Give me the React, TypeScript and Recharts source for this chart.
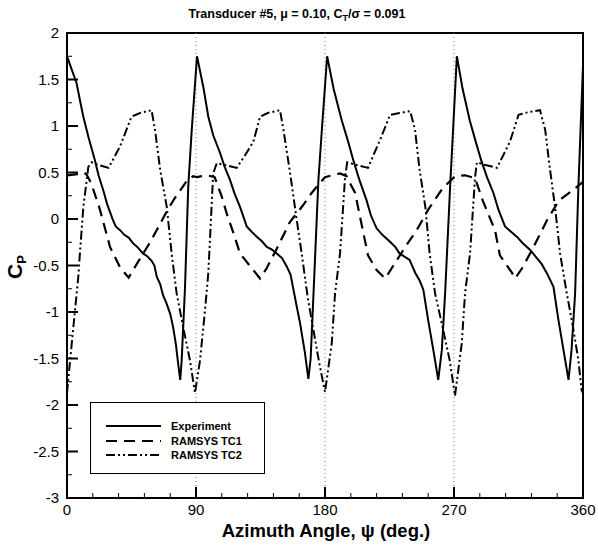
import React from 'react';
import {
  LineChart,
  Line,
  XAxis,
  YAxis,
  ReferenceLine,
  ReferenceArea,
  Legend,
} from 'recharts';

// Azimuth (deg) and Cp
const expAngle = [
  0, 3, 6.7, 9, 11.4, 15, 19.5, 22, 25.3, 28, 32, 34, 37, 40, 43, 46, 49, 53, 56, 59, 61, 62.6, 65, 67, 69.5, 72, 74, 76, 77.5, 79, 80, 82.3, 84.6, 87, 90.7,
  95.1, 98.6, 102, 106.8, 110, 113.7, 117, 120.7, 125.4, 129, 132.4, 136, 139.4, 143, 146.3, 150, 153.3, 156, 158, 160, 162.6, 166, 168.4, 170, 172.5, 175.4, 178, 181.5,
  186, 191.7, 196, 199.8, 204, 209, 212, 216, 220, 225, 229, 232, 236, 239, 243, 246, 248.6, 252, 255.6, 259, 261.5, 263.8, 267.3, 269.5, 272,
  276, 281, 285, 289, 293, 297.5, 301, 305.6, 310, 313.8, 318, 323, 327.8, 331, 334.7, 339.4, 342.9, 346.4, 349.9, 352, 354.5, 356.8, 360,
];
const expCp = [
  1.75, 1.62, 1.46, 1.28, 1.1, 0.88, 0.63, 0.47, 0.31, 0.16, -0.01, -0.08, -0.12, -0.17, -0.2, -0.26, -0.3, -0.37, -0.4, -0.45, -0.5, -0.62, -0.7, -0.82, -0.91, -1.02, -1.16, -1.35, -1.55, -1.73, -1.52, -0.75, 0.35, 0.95, 1.75,
  1.42, 1.1, 0.9, 0.71, 0.56, 0.42, 0.27, 0.13, -0.08, -0.14, -0.19, -0.24, -0.3, -0.33, -0.37, -0.42, -0.51, -0.6, -0.76, -0.92, -1.12, -1.44, -1.72, -1.5, -0.62, 0.42, 1.0, 1.75,
  1.4, 1.06, 0.84, 0.63, 0.42, 0.2, 0.04, -0.1, -0.17, -0.24, -0.3, -0.37, -0.41, -0.44, -0.58, -0.66, -0.76, -1.09, -1.41, -1.73, -1.41, -0.8, 0.35, 1.0, 1.75,
  1.4, 1.06, 0.84, 0.63, 0.45, 0.28, 0.1, -0.08, -0.14, -0.19, -0.26, -0.33, -0.42, -0.48, -0.58, -0.73, -1.09, -1.41, -1.73, -1.41, -0.8, 0.35, 1.65,
];

const tc1Angle = [
  0, 6, 12, 14, 17, 23, 30, 37, 43, 50, 58, 64, 69.5, 75, 80, 84, 88,
  90.5, 97.5, 103, 108, 111.4, 117, 120.7, 130, 134.7, 139.3, 146, 155.6, 164.8, 170.7, 176, 180,
  190.5, 195, 201, 206.5, 210, 216, 222, 229, 236, 244, 252, 262, 270.8,
  277.7, 284.7, 290, 298.6, 302, 310.5, 312.6, 317.5, 324.5, 335, 343.3, 353, 360,
];
const tc1Cp = [
  0.47, 0.48, 0.5, 0.47, 0.38, 0.1, -0.3, -0.52, -0.63, -0.45, -0.25, -0.08, 0.08, 0.22, 0.33, 0.42, 0.46,
  0.45, 0.47, 0.45, 0.24, 0.06, -0.19, -0.37, -0.55, -0.64, -0.53, -0.33, -0.03, 0.15, 0.28, 0.38, 0.45,
  0.49, 0.46, 0.28, -0.13, -0.39, -0.55, -0.64, -0.47, -0.3, -0.12, 0.1, 0.33, 0.46,
  0.47, 0.44, 0.2, -0.12, -0.39, -0.58, -0.64, -0.53, -0.33, -0.01, 0.2, 0.31, 0.4,
];

const tc2Angle = [
  0, 3.3, 5.6, 7.9, 9, 11.4, 14.9, 17.2, 22, 29, 37, 45, 51, 59, 61.4, 65, 69.6, 73, 76.5, 81, 85.8, 89.3,
  92.8, 96.3, 98.6, 102, 104.5, 110, 118.4, 124, 130, 134.7, 140, 148.6, 151, 155.6, 160, 164, 168, 172, 176, 180,
  184.7, 187, 190.5, 194, 195.5, 202, 210, 218.4, 225.4, 232, 239.4, 242.8, 246, 250, 253, 256.8, 262, 267, 270.7,
  275.4, 277.7, 281.2, 284.7, 286, 292, 300, 309, 315, 322, 330, 333.6, 337, 340.5, 344, 348.7, 353, 356.8, 359, 360,
];
const tc2Cp = [
  -1.87, -1.34, -0.98, -0.62, -0.37, 0.13, 0.56, 0.61, 0.58, 0.55, 0.78, 1.1, 1.14, 1.17, 0.96, 0.53, 0.13, -0.37, -0.8, -1.16, -1.52, -1.87,
  -1.52, -0.98, -0.58, 0.49, 0.6, 0.58, 0.55, 0.68, 0.83, 1.1, 1.14, 1.17, 0.96, 0.5, 0.02, -0.4, -0.85, -1.2, -1.55, -1.86,
  -1.34, -0.8, -0.37, 0.45, 0.61, 0.58, 0.55, 0.85, 1.12, 1.14, 1.16, 0.96, 0.53, 0.13, -0.37, -0.8, -1.16, -1.52, -1.9,
  -1.34, -0.8, -0.37, 0.45, 0.61, 0.58, 0.55, 0.83, 1.12, 1.15, 1.17, 0.96, 0.53, 0.13, -0.37, -0.8, -1.16, -1.52, -1.84, -1.87,
];

const xTicks = [0, 18, 36, 54, 72, 90, 108, 126, 144, 162, 180, 198, 216, 234, 252, 270, 288, 306, 324, 342, 360];
const yTicks = [-3, -2.75, -2.5, -2.25, -2, -1.75, -1.5, -1.25, -1, -0.75, -0.5, -0.25, 0, 0.25, 0.5, 0.75, 1, 1.25, 1.5, 1.75, 2];
const guideAngles = [90, 180, 270];

const toRows = (xs: number[], ys: number[]) => xs.map((x, i) => ({ x, cp: ys[i] }));
const expData = toRows(expAngle, expCp);
const tc1Data = toRows(tc1Angle, tc1Cp);
const tc2Data = toRows(tc2Angle, tc2Cp);

const FONT = '"Liberation Sans", Arial, Helvetica, sans-serif';

const series = [
  { name: 'Experiment', data: expData, dash: undefined, width: 2 },
  { name: 'RAMSYS TC1', data: tc1Data, dash: '11 7', width: 2.2 },
  { name: 'RAMSYS TC2', data: tc2Data, dash: '9 3 2 3 2 3', width: 2 },
];

const XTick = (props: any) => {
  const { x, y, payload } = props;
  const major = payload.value % 90 === 0;
  return (
    <g>
      <line x1={x} x2={x} y1={y} y2={y - (major ? 11 : 5)} stroke="#000" strokeWidth={major ? 2 : 1} />
      {major && (
        <text x={x} y={y + 17} textAnchor="middle" fontSize={15} fontFamily={FONT} fill="#000">
          {payload.value}
        </text>
      )}
    </g>
  );
};

const YTick = (props: any) => {
  const { x, y, payload } = props;
  const major = Number.isInteger(payload.value * 2);
  return (
    <g>
      <line x1={x} x2={x + (major ? 11 : 5)} y1={y} y2={y} stroke="#000" strokeWidth={major ? 2 : 1} />
      {major && (
        <text x={x - 8} y={y + 5} textAnchor="end" fontSize={15} fontFamily={FONT} fill="#000">
          {String(payload.value)}
        </text>
      )}
    </g>
  );
};

const LegendBox = () => (
  <div
    style={{
      width: 175,
      height: 72,
      border: '1.5px solid #000',
      background: '#fff',
      fontFamily: FONT,
      fontWeight: 'bold',
      fontSize: 11,
      boxSizing: 'border-box',
      paddingTop: 16,
    }}
  >
    {series.map((s) => (
      <div key={s.name} style={{ display: 'flex', alignItems: 'center', height: 14.5 }}>
        <svg width={80} height={10}>
          <line x1={15} x2={70} y1={5} y2={5} stroke="#000" strokeWidth={2} strokeDasharray={s.dash} />
        </svg>
        <span>{s.name}</span>
      </div>
    ))}
  </div>
);

export default function App() {
  return (
    <div style={{ position: 'fixed', left: 0, top: 0, width: 598, height: 546, background: '#fff' }}>
      <LineChart width={598} height={546} margin={{ top: 33, right: 15, left: 0, bottom: 0 }}>
        <XAxis
          dataKey="x"
          type="number"
          domain={[0, 360]}
          ticks={xTicks}
          interval={0}
          tickSize={0}
          tickMargin={0}
          tick={<XTick />}
          axisLine={{ stroke: '#000', strokeWidth: 2 }}
          height={48}
          allowDataOverflow
        />
        <YAxis
          type="number"
          domain={[-3, 2]}
          ticks={yTicks}
          interval={0}
          tickSize={0}
          tickMargin={0}
          tick={<YTick />}
          axisLine={{ stroke: '#000', strokeWidth: 2 }}
          width={67}
          allowDataOverflow
        />
        {guideAngles.map((a) => (
          <ReferenceLine key={a} x={a} stroke="#777" strokeWidth={1} strokeDasharray="1 3" />
        ))}
        <ReferenceArea x1={0} x2={360} y1={-3} y2={2} fill="none" stroke="#000" strokeWidth={2} ifOverflow="visible" />
        {series.map((s) => (
          <Line
            key={s.name}
            data={s.data}
            dataKey="cp"
            name={s.name}
            type="linear"
            stroke="#000"
            strokeWidth={s.width}
            strokeDasharray={s.dash}
            dot={false}
            activeDot={false}
            isAnimationActive={false}
          />
        ))}
        <Legend
          layout="vertical"
          align="center"
          verticalAlign="middle"
          content={<LegendBox />}
          wrapperStyle={{ left: 90, top: 402, width: 177, height: 74 }}
        />
        <text x={297} y={18} textAnchor="middle" fontSize={12.5} fontWeight="bold" fontFamily={FONT} fill="#000">
          Transducer #5, μ = 0.10, C
          <tspan fontSize={9} dy={3}>T</tspan>
          <tspan dy={-3}>/σ = 0.091</tspan>
        </text>
        <text
          x={22}
          y={267}
          transform="rotate(-90, 22, 267)"
          textAnchor="middle"
          fontSize={21}
          fontWeight="bold"
          fontFamily={FONT}
          fill="#000"
        >
          C<tspan fontSize={13} dy={4}>P</tspan>
        </text>
        <text x={326} y={537} textAnchor="middle" fontSize={18.5} fontWeight="bold" fontFamily={FONT} fill="#000">
          Azimuth Angle, ψ (deg.)
        </text>
      </LineChart>
    </div>
  );
}
